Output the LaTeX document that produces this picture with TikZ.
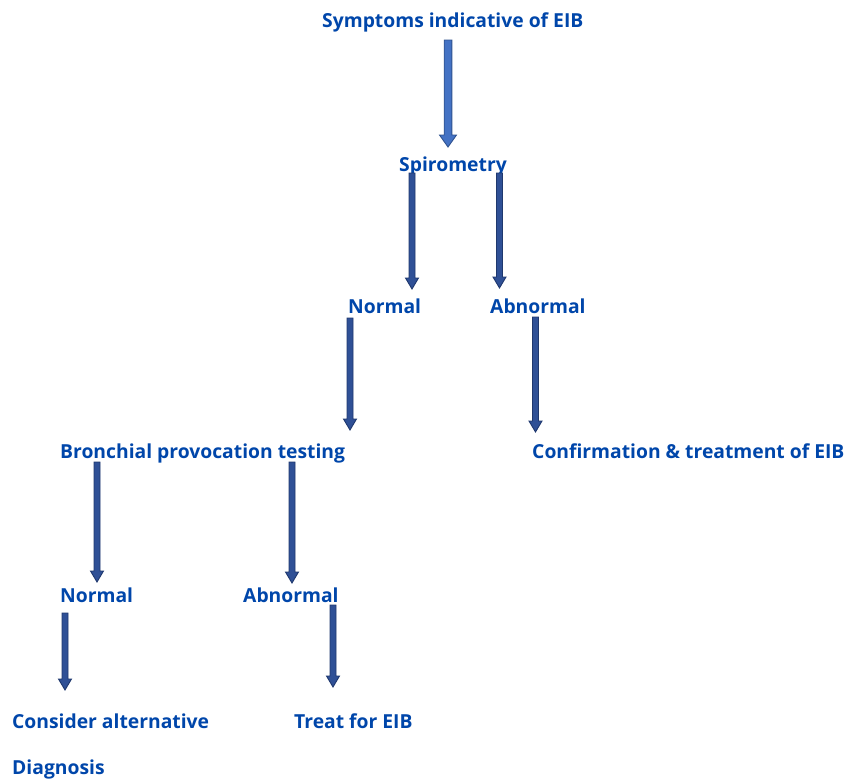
\documentclass[tikz,border=0pt]{standalone}
\usepackage{fontspec}
\setmainfont{Open Sans}[Ligatures=NoCommon]
\usetikzlibrary{calc}
\definecolor{txtblue}{RGB}{0,70,170}
\definecolor{arrfillA}{RGB}{68,114,196}
\definecolor{arrdrawA}{RGB}{47,82,143}
\definecolor{arrfillB}{RGB}{47,80,150}
\definecolor{arrdrawB}{RGB}{31,56,110}
\tikzset{
  lbl/.style={anchor=base west, inner sep=0pt, text=txtblue, font=\fontsize{19.3pt}{23pt}\selectfont\bfseries},
  arrA/.style={fill=arrfillA, draw=arrdrawA, line width=0.9pt, line join=miter},
  arrB/.style={fill=arrfillB, draw=arrdrawB, line width=0.9pt, line join=miter}
}
% #1 style, #2 start coordinate, #3 tip coordinate, #4 half shaft, #5 half head, #6 head length
\newcommand{\blockarr}[6]{%
  \path[#1] ($(#2)+(-#4,0)$) -- ($(#3)+(-#4,#6)$) -- ($(#3)+(-#5,#6)$) -- (#3)
    -- ($(#3)+(#5,#6)$) -- ($(#3)+(#4,#6)$) -- ($(#2)+(#4,0)$) -- cycle;}
\begin{document}
\begin{tikzpicture}[x=1pt,y=-1pt]
\useasboundingbox (0,0) rectangle (854,782);
\node[lbl] (sym) at (322,27) {Symptoms indicative of EIB};
\node[lbl] (spi) at (399,171) {Spirometry};
\node[lbl] (n1) at (348,313) {Normal};
\node[lbl] (ab1) at (490,313) {Abnormal};
\node[lbl] (bpt) at (60,458) {Bronchial provocation testing};
\node[lbl] (conf) at (532,458) {Confirmation \& treatment of EIB};
\node[lbl] (n2) at (60,602) {Normal};
\node[lbl] (ab2) at (243,602) {Abnormal};
\node[lbl] (cons) at (12,728) {Consider alternative};
\node[lbl] (diag) at (12,774) {Diagnosis};
\node[lbl] (treat) at (294,728) {Treat for EIB};
% arrow end points
\coordinate (a1s) at (448,40);  \coordinate (a1e) at (448,147);
\coordinate (a2s) at (412,173); \coordinate (a2e) at (412,289);
\coordinate (a3s) at (499.5,173); \coordinate (a3e) at (499.5,288);
\coordinate (a4s) at (350,318); \coordinate (a4e) at (350,430);
\coordinate (a5s) at (535.5,317); \coordinate (a5e) at (535.5,432);
\coordinate (a6s) at (97,462);  \coordinate (a6e) at (97,582);
\coordinate (a7s) at (292,462); \coordinate (a7e) at (292,583);
\coordinate (a8s) at (65,613);  \coordinate (a8e) at (65,690);
\coordinate (a9s) at (333,605); \coordinate (a9e) at (333,687);
\blockarr{arrA}{a1s}{a1e}{3.8pt}{8.5pt}{12pt}
\blockarr{arrB}{a2s}{a2e}{3pt}{6.5pt}{11pt}
\blockarr{arrB}{a3s}{a3e}{3pt}{6.5pt}{11pt}
\blockarr{arrB}{a4s}{a4e}{3pt}{6.5pt}{11pt}
\blockarr{arrB}{a5s}{a5e}{3pt}{6.5pt}{11pt}
\blockarr{arrB}{a6s}{a6e}{3pt}{6.5pt}{11pt}
\blockarr{arrB}{a7s}{a7e}{3pt}{6.5pt}{11pt}
\blockarr{arrB}{a8s}{a8e}{3pt}{6.5pt}{11pt}
\blockarr{arrB}{a9s}{a9e}{3pt}{6.5pt}{11pt}
\end{tikzpicture}
\end{document}
